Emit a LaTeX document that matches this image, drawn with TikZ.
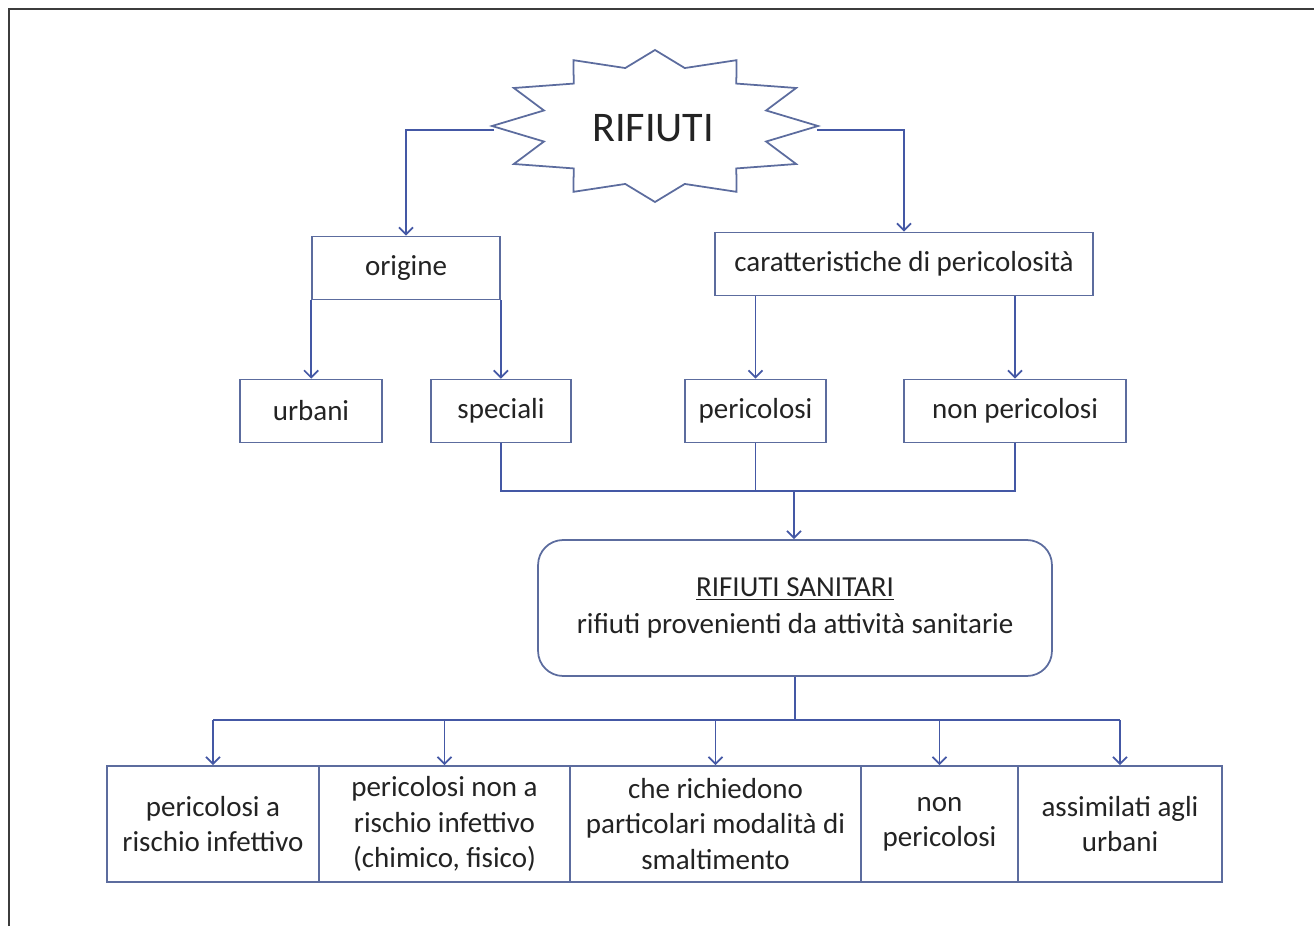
\documentclass[tikz,border=0pt]{standalone}
\usepackage{fontspec}
\setmainfont{Carlito}
\usetikzlibrary{arrows.meta,positioning}
\definecolor{boxcol}{RGB}{92,108,158}
\definecolor{arrcol}{RGB}{68,88,165}
\definecolor{framecol}{RGB}{60,60,60}
\definecolor{txtcol}{RGB}{35,35,35}
\tikzset{font=\fontsize{16.5}{20}\selectfont}
\tikzstyle{box}=[draw=boxcol,fill=white,line width=1pt,text=txtcol,inner sep=0pt,align=center,minimum height=1.26cm]
\tikzstyle{low}=[box,minimum height=2.32cm]
\tikzstyle{conn}=[draw=arrcol,line width=1pt]
\tikzstyle{arr}=[conn,-{Straight Barb[length=4pt,width=8pt]}]

\begin{document}
\begin{tikzpicture}[x=0.02cm,y=-0.02cm]
\useasboundingbox (0,0) rectangle (1314,926);
\draw[framecol,line width=1.7pt] (9,926) -- (9,9) -- (1314,9);
% the burst round RIFIUTI
\begin{scope}[shift={(655,126)}]
\draw[boxcol,fill=white,line width=1pt] (0,76)
  \foreach \a [evaluate=\a as \rx using {mod(\a,2)==0?163:115},
               evaluate=\a as \ry using {mod(\a,2)==0?76:60}] in {1,...,23}
  { -- ({\rx*cos(90+15*\a)},{\ry*sin(90+15*\a)}) } -- cycle;
\end{scope}
\node[text=txtcol,font=\fontsize{24}{28}\selectfont] (rif) at (653,128) {RIFIUTI};
\coordinate (rifw) at (494,130);
\coordinate (rife) at (817,130);

\node[box,minimum width=3.76cm] (orig) at (406,268) {origine};
\node[box,minimum width=7.56cm] (car) at (904,264) {caratteristiche di pericolosità};
\node[box,minimum width=2.84cm] (urb) at (311,411) {urbani};
\node[box,minimum width=2.80cm] (spec) at (501,411) {speciali};
\node[box,minimum width=2.82cm] (per) at (755.5,411) {pericolosi};
\node[box,minimum width=4.44cm] (nonp) at (1015,411) {non pericolosi};
\node[box,rounded corners=0.5cm,minimum width=10.28cm,minimum height=2.72cm] (san) at (795,608)
  {\underline{RIFIUTI SANITARI}\\[1pt]rifiuti provenienti da attività sanitarie};

\node[low,minimum width=4.24cm] (b1) at (213,824) {pericolosi a\\rischio infettivo};
\node[low,minimum width=5.02cm] (b2) at (444.5,824) {pericolosi non a\\rischio infettivo\\(chimico, fisico)};
\node[low,minimum width=5.82cm] (b3) at (715.5,824) {che richiedono\\particolari modalità di\\smaltimento};
\node[low,minimum width=3.14cm] (b4) at (939.5,824) {non\\pericolosi};
\node[low,minimum width=4.08cm] (b5) at (1120,824) {assimilati agli\\urbani};

\coordinate (join) at (794,491);
\coordinate (split) at (795,720);

\draw[arr] (rifw) -| (orig.north);
\draw[arr] (rife) -| (car.north);
\draw[arr] (orig.south west) -- (orig.south west |- urb.north);
\draw[arr] (orig.south east) -- (orig.south east |- spec.north);
\draw[arr] (car.south -| per.north) -- (per.north);
\draw[arr] (car.south -| nonp.north) -- (nonp.north);
\draw[conn] (spec.south) |- (join) -| (nonp.south);
\draw[conn] (per.south) -- (per.south |- join);
\draw[arr] (join) -- (join |- san.north);
\draw[conn] (san.south) -- (split);
\draw[conn] (split -| b1.north) -- (split -| b5.north);
\foreach \b in {b1,b2,b3,b4,b5}
  \draw[arr] (split -| \b.north) -- (\b.north);
\end{tikzpicture}
\end{document}
